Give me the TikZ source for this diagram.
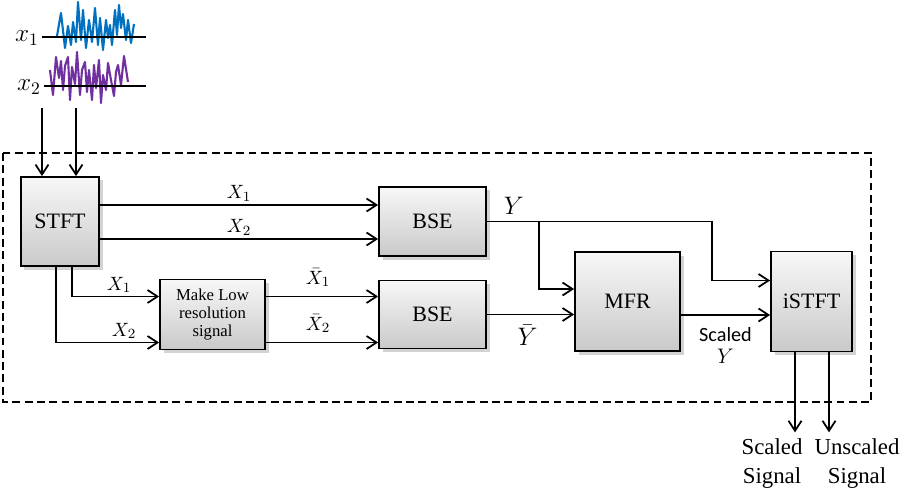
\documentclass[tikz,border=0pt]{standalone}
\usepackage{fontspec}
\setmainfont{Liberation Serif}
\newfontfamily\calibfont{Carlito}
\usepackage{tikz}
\usetikzlibrary{positioning,arrows.meta,shadows}
\definecolor{sigblue}{RGB}{0,112,192}
\definecolor{sigpurple}{RGB}{112,48,160}

\begin{document}
\begin{tikzpicture}[x=0.2mm, y=-0.2mm, on grid, line width=1pt,
    >={Straight Barb[length=2mm, width=2.6mm]},
    block/.style={draw, inner sep=0pt, top color=gray!6, bottom color=gray!42,
        drop shadow={shadow xshift=0.7mm, shadow yshift=-0.7mm, opacity=0.35},
        font=\fontsize{12.5}{15}\selectfont},
    lbl/.style={font=\fontsize{11}{12}\selectfont, inner sep=1.5pt},
    sig/.style={line width=1.2pt, line join=round}]

    \useasboundingbox (0,0) rectangle (916,503);

    \draw[sig, sigblue] plot coordinates {(57,36) (61,13) (65,48) (68,26) (71,45) (73,22) (76,42) (78,2) (81,40) (83,10) (86,48) (89,20) (92,42) (95,8) (98,45) (100,18) (103,50) (106,20) (108,38) (110,25) (112,45) (115,10) (117,35) (119,5) (121,28) (123,14) (126,40) (128,20) (131,43) (134,24)};
    \draw[sig, sigpurple] plot coordinates {(50,70) (53,95) (56,57) (59,78) (61,61) (63,90) (65,66) (68,57) (70,100) (72,67) (75,84) (77,52) (80,95) (82,70) (85,62) (87,92) (89,70) (92,100) (94,65) (96,88) (99,60) (101,103) (103,75) (106,90) (108,63) (111,80) (114,96) (116,72) (118,65) (121,85) (124,56) (128,82)};

    \node[font=\fontsize{14}{16}\selectfont, inner sep=1pt] (lx1) at (27,38) {$x_1$};
    \node[font=\fontsize{14}{16}\selectfont, inner sep=1pt] (lx2) at (29,87) {$x_2$};
    \draw (lx1.east |- 0,37) -- (146,37);
    \draw (lx2.east |- 0,86) -- (146,86);

    \draw[dash pattern=on 4.5pt off 2.5pt] (3,153) rectangle (871,402);

    \node[block, minimum width=15.6mm, minimum height=17.8mm] (stft) at (60,221.5) {STFT};
    \node[block, minimum width=21.4mm, minimum height=13.8mm] (bse1) [right=74.5mm of stft] {BSE};
    \node[block, minimum width=21.4mm, minimum height=13.6mm] (bse2) [below=18.6mm of bse1] {BSE};
    \node[block, minimum width=21mm, minimum height=14mm, align=center,
        font=\fontsize{9.5}{10.5}\selectfont] (lowres) [left=44mm of bse2] {Make Low\\resolution\\signal};
    \node[block, minimum width=21mm, minimum height=19.8mm] (mfr) [below right=16mm and 39mm of bse1] {MFR};
    \node[block, minimum width=16.2mm, minimum height=20mm] (istft) [right=36.8mm of mfr] {iSTFT};

    \coordinate (in1) at (42,108);
    \coordinate (in2) at (76,108);
    \draw[->] (in1) -- (in1 |- stft.north);
    \draw[->] (in2) -- (in2 |- stft.north);

    \draw[->] ([yshift=3.3mm]stft.east) -- ([yshift=3.3mm]bse1.west) node[lbl, midway, above] {$X_1$};
    \draw[->] ([yshift=-3.5mm]stft.east) -- ([yshift=-3.5mm]bse1.west) node[lbl, midway, above] {$X_2$};

    \coordinate (lr1) at ([yshift=3.6mm]lowres.west);
    \coordinate (lr2) at ([yshift=-5.6mm]lowres.west);
    \coordinate (lo1) at ([yshift=3.6mm]lowres.east);
    \coordinate (lo2) at ([yshift=-5.6mm]lowres.east);
    \draw[->] ([xshift=2.4mm]stft.south) |- (lr1) node[lbl, pos=0.77, above] {$X_1$};
    \draw[->] ([xshift=-0.8mm]stft.south) |- (lr2) node[lbl, pos=0.83, above] {$X_2$};
    \draw[->] (lo1) -- (lo1 -| bse2.west) node[lbl, midway, above=1.2mm, xshift=-0.8mm] {$\bar{X}_1$};
    \draw[->] (lo2) -- (lo2 -| bse2.west) node[lbl, midway, above=1.2mm, xshift=-0.8mm] {$\bar{X}_2$};

    \coordinate (ybr) at ([xshift=10.4mm]bse1.east);
    \draw[->] (bse1.east) -- node[pos=0.12, above, font=\fontsize{13.5}{15}\selectfont] {$Y$} ++(225,0) |- ([yshift=4.2mm]istft.west);
    \draw[->] (ybr) |- ([yshift=2.5mm]mfr.west);
    \draw[->] (bse2.east) -- (bse2.east -| mfr.west) node[midway, below=0.8mm, xshift=-0.6mm, font=\fontsize{13.5}{15}\selectfont] {$\bar{Y}$};

    \coordinate (ms) at ([yshift=-2.7mm]mfr.east);
    \draw[->] (ms) -- (ms -| istft.west) node[midway, below=1.2mm, align=center,
        font=\calibfont\fontsize{11.5}{12.5}\selectfont] {Scaled\\$Y$};

    \draw[->] ([xshift=-3.3mm]istft.south) -- ++(0,80) node[below, xshift=-4.6mm, align=center,
        font=\fontsize{13}{16}\selectfont] {Scaled\\Signal};
    \draw[->] ([xshift=3.5mm]istft.south) -- ++(0,80) node[below, xshift=5.6mm, align=center,
        font=\fontsize{13}{16}\selectfont] {Unscaled\\Signal};

\end{tikzpicture}
\end{document}
